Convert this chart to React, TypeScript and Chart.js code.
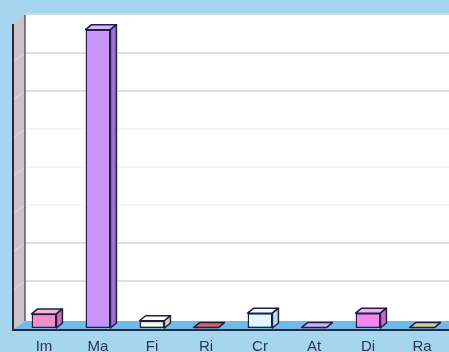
import React, { useEffect, useRef } from "react";
import { Chart, registerables } from "chart.js";

Chart.register(...registerables);

// Category labels and values
const categories = ["Im", "Ma", "Fi", "Ri", "Cr", "At", "Di", "Ra"];
const values = [37, 785, 19, 1, 39, 1, 39, 1];

// Face colours of each box: front, top, side
const frontColors = ["#F48EC6", "#C892F6", "#FFF8D6", "#D46464", "#E2F8FE", "#C6B4EC", "#F884EE", "#CCD48C"];
const topColors = ["#F9B4DA", "#DAB4FC", "#FFFCEA", "#D46464", "#F2FCFF", "#C6B4EC", "#FCAAF6", "#CCD48C"];
const sideColors = ["#D06EA8", "#9E70D2", "#DCD4AE", "#B04848", "#BEDCE8", "#A894D0", "#D262CC", "#AAB26C"];

const Y_MAX = 800;
const Y_STEP = 100;
// grid values drawn in the stronger grey; the rest are faint
const strongGrid = [100, 200, 600, 700];

const BG = "#A6D6EF";
const FLOOR = "#6FBAE6";
const WALL = "#C9C5C9";
const OUTLINE = "#1E1E46";

// wall depth and box depth
const WALL_DX = 12;
const WALL_DY = 9;
const BOX_DX = 6;
const BOX_DY = 5;

const scenePlugin = {
  id: "scene3d",
  beforeDraw(chart: any) {
    const { ctx, chartArea: a, scales } = chart;
    const y = scales.y;
    ctx.save();
    ctx.fillStyle = BG;
    ctx.fillRect(0, 0, chart.width, chart.height);

    const frontX = a.left - 4;
    const backX = frontX + WALL_DX;
    const floorFrontY = a.bottom + 2;
    const floorBackY = floorFrontY - WALL_DY;
    const topFront = a.top;
    const topBack = a.top - WALL_DY;

    // soft shadow under the top edge of the back wall
    ctx.fillStyle = "#C8DCE6";
    ctx.fillRect(backX, topBack - 2, a.right - backX, 2);

    // back wall
    ctx.fillStyle = "#FFFFFF";
    ctx.fillRect(backX, topBack, a.right - backX, floorBackY - topBack);

    // grid lines on the back wall and across the side wall
    const ticks = y.ticks || [];
    ctx.lineWidth = 1.5;
    for (const t of ticks) {
      if (t.value <= 0) continue;
      const py = y.getPixelForValue(t.value) - WALL_DY;
      if (py <= topBack + 1) continue;
      ctx.strokeStyle = strongGrid.includes(t.value) ? "#D4D4D4" : "#F3F3F3";
      ctx.beginPath();
      ctx.moveTo(backX, py);
      ctx.lineTo(a.right, py);
      ctx.stroke();
    }

    // side wall
    ctx.fillStyle = WALL;
    ctx.beginPath();
    ctx.moveTo(frontX, topFront);
    ctx.lineTo(backX, topBack);
    ctx.lineTo(backX, floorBackY);
    ctx.lineTo(frontX, floorFrontY);
    ctx.closePath();
    ctx.fill();
    ctx.lineWidth = 1;
    for (const t of ticks) {
      if (t.value <= 0) continue;
      const py = y.getPixelForValue(t.value);
      if (py <= topFront + 1) continue;
      ctx.strokeStyle = "#DCDCE0";
      ctx.beginPath();
      ctx.moveTo(frontX, py);
      ctx.lineTo(backX, py - WALL_DY);
      ctx.stroke();
    }

    // floor
    ctx.fillStyle = FLOOR;
    ctx.beginPath();
    ctx.moveTo(frontX, floorFrontY);
    ctx.lineTo(backX, floorBackY);
    ctx.lineTo(a.right, floorBackY);
    ctx.lineTo(a.right, floorFrontY);
    ctx.closePath();
    ctx.fill();

    // wall edges
    ctx.strokeStyle = "#5A5A66";
    ctx.lineWidth = 1.5;
    ctx.beginPath();
    ctx.moveTo(backX, topBack);
    ctx.lineTo(backX, floorBackY);
    ctx.stroke();
    ctx.strokeStyle = "#262A3C";
    ctx.lineWidth = 2;
    ctx.beginPath();
    ctx.moveTo(frontX, topFront);
    ctx.lineTo(frontX, floorFrontY);
    ctx.lineTo(a.right, floorFrontY);
    ctx.stroke();
    ctx.restore();
  },
  afterDatasetsDraw(chart: any) {
    const { ctx } = chart;
    const meta = chart.getDatasetMeta(0);
    ctx.save();
    ctx.lineWidth = 1.5;
    ctx.strokeStyle = OUTLINE;
    ctx.lineJoin = "round";
    meta.data.forEach((bar: any, i: number) => {
      const { x, y, base, width } = bar.getProps(["x", "y", "base", "width"], true);
      const l = x - width / 2;
      const r = x + width / 2;
      // top face
      ctx.fillStyle = topColors[i];
      ctx.beginPath();
      ctx.moveTo(l, y);
      ctx.lineTo(l + BOX_DX, y - BOX_DY);
      ctx.lineTo(r + BOX_DX, y - BOX_DY);
      ctx.lineTo(r, y);
      ctx.closePath();
      ctx.fill();
      ctx.stroke();
      // side face
      if (base - y > 1) {
        ctx.fillStyle = sideColors[i];
        ctx.beginPath();
        ctx.moveTo(r, y);
        ctx.lineTo(r + BOX_DX, y - BOX_DY);
        ctx.lineTo(r + BOX_DX, base - BOX_DY);
        ctx.lineTo(r, base);
        ctx.closePath();
        ctx.fill();
        ctx.stroke();
      }
    });
    ctx.restore();
  },
};

export default function App() {
  const ref = useRef<HTMLCanvasElement | null>(null);

  useEffect(() => {
    if (!ref.current) return;
    const chart = new Chart(ref.current, {
      type: "bar",
      data: {
        labels: categories,
        datasets: [
          {
            data: values,
            backgroundColor: frontColors,
            borderColor: OUTLINE,
            borderWidth: 1.5,
            borderSkipped: false,
            categoryPercentage: 1,
            barPercentage: 0.46,
          },
        ],
      },
      options: {
        responsive: false,
        animation: false,
        devicePixelRatio: 1,
        layout: { padding: { left: 17, top: 24, right: 0, bottom: 0 } },
        plugins: { legend: { display: false }, tooltip: { enabled: false } },
        scales: {
          x: {
            grid: { display: false, drawTicks: false },
            border: { display: false },
            ticks: {
              color: "#2B3552",
              padding: 10,
              font: { family: "'Liberation Sans', Arial, sans-serif", size: 15 },
              maxRotation: 0,
            },
            afterFit: (s: any) => {
              s.height = 24;
            },
          },
          y: {
            display: false,
            min: 0,
            max: Y_MAX,
            ticks: { stepSize: Y_STEP },
          },
        },
      },
      plugins: [scenePlugin],
    });
    return () => chart.destroy();
  }, []);

  return (
    <div style={{ position: "fixed", left: 0, top: 0, width: 449, height: 352, background: BG }}>
      <canvas ref={ref} width={449} height={352} style={{ display: "block" }} />
    </div>
  );
}
